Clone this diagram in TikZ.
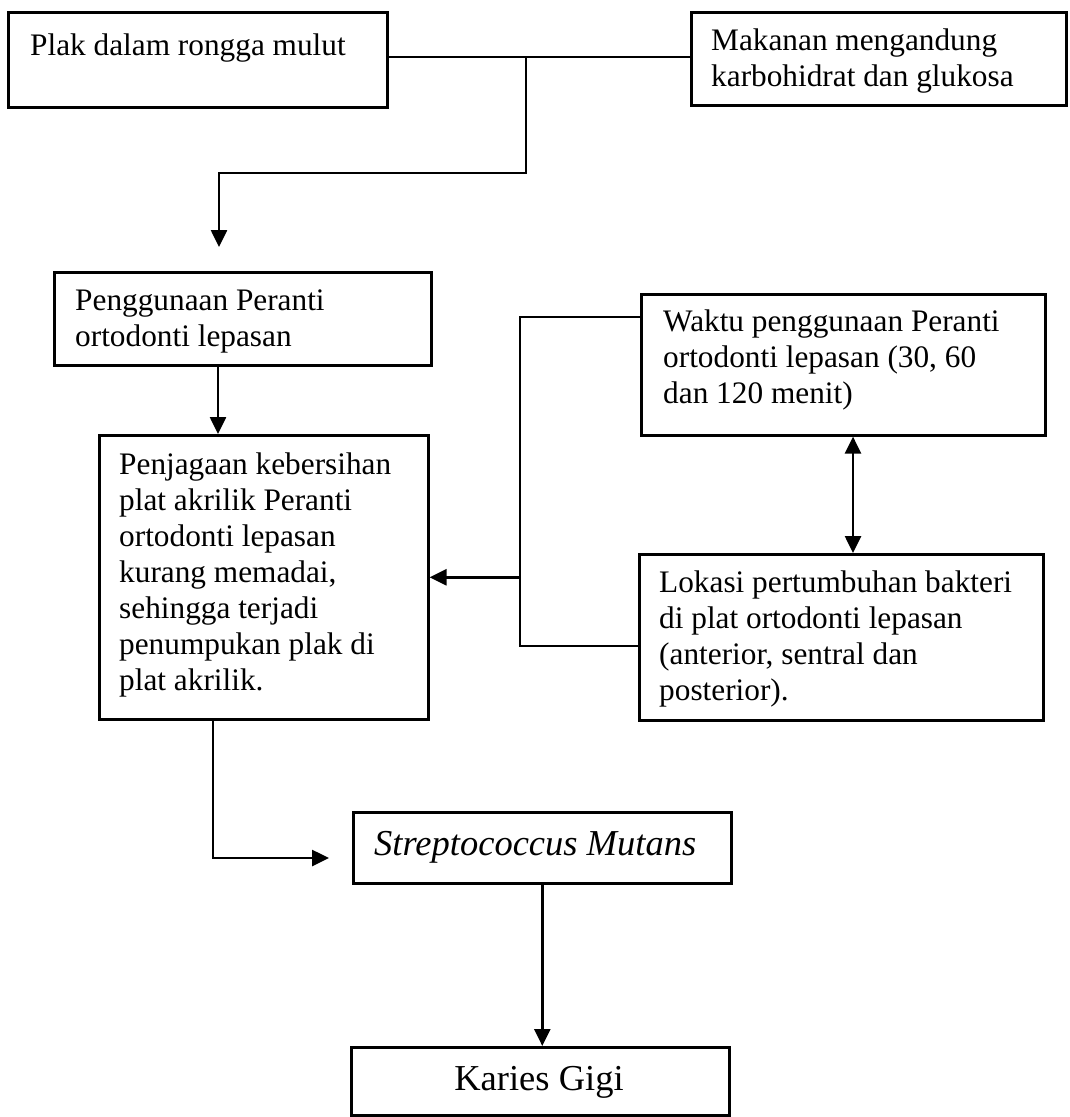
\documentclass[tikz,border=0pt]{standalone}
\usepackage{fontspec}
\setmainfont{Liberation Serif}
\usetikzlibrary{arrows.meta,calc}
\tikzset{
  box/.style={draw, line width=2.6pt, inner sep=0pt, anchor=north west},
  txt/.style={inner sep=0pt, anchor=base west, align=left, font=\fontsize{31.3}{36}\selectfont},
  bigtxt/.style={inner sep=0pt, anchor=base, font=\fontsize{36.5}{42}\selectfont},
  conn/.style={line width=2.6pt},
  arr/.style={line width=2.6pt, -{Triangle[length=17pt,width=16pt]}},
  darr/.style={line width=2.6pt, {Triangle[length=17pt,width=16pt]}-{Triangle[length=17pt,width=16pt]}}
}
\begin{document}
\begin{tikzpicture}[x=1pt,y=-1pt]
\useasboundingbox (0,0) rectangle (1069,1117);
% boxes
\node[box, minimum width=379pt, minimum height=95pt] (b1) at (7,11) {};
\node[box, minimum width=375pt, minimum height=93pt] (b2) at (690,11) {};
\node[box, minimum width=377pt, minimum height=93pt] (b3) at (53,271) {};
\node[box, minimum width=329pt, minimum height=284pt] (b4) at (98,434) {};
\node[box, minimum width=404pt, minimum height=141pt] (b5) at (640,293) {};
\node[box, minimum width=404pt, minimum height=166pt] (b6) at (638,553) {};
\node[box, minimum width=378pt, minimum height=71pt] (b7) at (352,811) {};
\node[box, minimum width=378pt, minimum height=68pt] (b8) at (350,1046) {};
% texts (multi-line nodes are placed by their last baseline)
\node[txt] (t1) at (30,55) {Plak dalam rongga mulut};
\node[txt] (t2) at (711,86) {Makanan mengandung\\karbohidrat dan glukosa};
\node[txt] (t3) at (75,346) {Penggunaan Peranti\\ortodonti lepasan};
\node[txt] (t4) at (119,690) {Penjagaan kebersihan\\plat akrilik Peranti\\ortodonti lepasan\\kurang memadai,\\sehingga terjadi\\penumpukan plak di\\plat akrilik.};
\node[txt] (t5) at (663,403) {Waktu penggunaan Peranti\\ortodonti lepasan (30, 60\\dan 120 menit)};
\node[txt] (t6) at (659,700) {Lokasi pertumbuhan bakteri\\di plat ortodonti lepasan\\(anterior, sentral dan\\posterior).};
\node[bigtxt, anchor=base west] (t7) at (374,855) {\itshape Streptococcus Mutans};
\node[bigtxt] (t8) at (539,1090) {Karies Gigi};
% coordinates
\coordinate (j1) at (526,57);
\coordinate (k1) at (526,173);
\coordinate (a1) at (219,247);
\coordinate (brk) at (520,0);
\coordinate (a2) at (329,858);
\coordinate (u5) at ($(b5.north west)+(0,24)$);
\coordinate (u6) at ($(b6.north west)+(0,93)$);
\coordinate (s3) at ($(b3.south west)+(165,0)$);
\coordinate (s4) at ($(b4.south west)+(115,0)$);
\coordinate (s5) at ($(b5.south west)+(213,0)$);
% top connector
\draw[conn] (b1.east |- j1) -- (b2.west |- j1);
\draw[arr] (j1) -- (k1) -- (a1 |- k1) -- (a1);
% b3 -> b4
\draw[arr] (s3) -- (s3 |- b4.north);
% bracket
\draw[conn] (u5) -- (u5 -| brk) -- (u6 -| brk) -- (u6);
\draw[arr] (b4.east -| brk) -- (b4.east);
% double arrow
\draw[darr] (s5) -- (s5 |- b6.north);
% b4 -> b7
\draw[arr] (s4) -- (s4 |- a2) -- (a2);
% b7 -> b8
\draw[arr] (b7.south) -- (b7.south |- b8.north);
\end{tikzpicture}
\end{document}
